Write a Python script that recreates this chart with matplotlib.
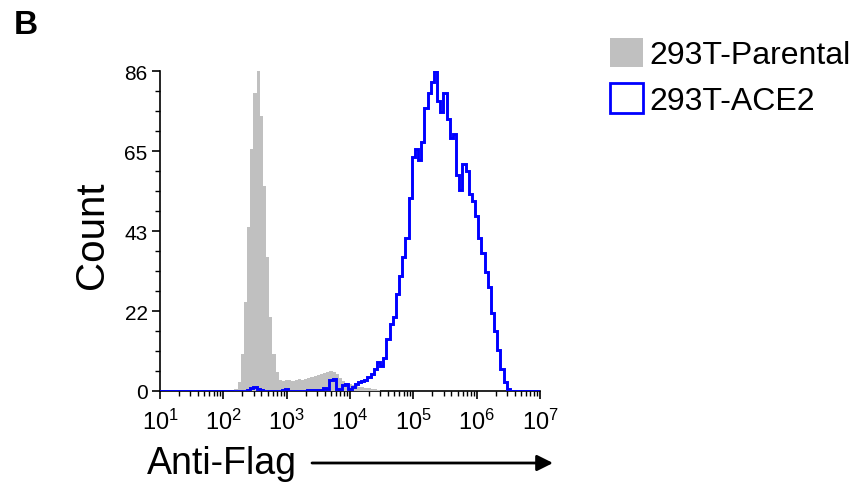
import numpy as np
import matplotlib
matplotlib.use("Agg")
import matplotlib.pyplot as plt
from matplotlib.patches import Patch
from matplotlib.ticker import FixedLocator, MultipleLocator, LogLocator, LogFormatterMathtext

plt.rcParams["font.family"] = ["Liberation Sans", "DejaVu Sans"]
plt.rcParams["mathtext.fontset"] = "custom"
plt.rcParams["mathtext.rm"] = "Liberation Sans"
plt.rcParams["mathtext.it"] = "Liberation Sans"

# Histogram channels: 0.05-decade log10 bins, each list value sits at a bin centre
bin_step = 0.05
log_min, log_max = 1.0, 7.0

# 293T-Parental counts, first bin centred at log10 = 2.15
parental_start = 2.15
parental_counts = [
    0, 0.5, 2.5, 10, 24, 44, 65, 80, 86, 74, 55, 36, 20, 10, 5, 3,
    2.8, 3.0, 3.0, 2.8, 3.0, 3.2, 3.0, 3.3, 3.5, 3.8, 4.0, 4.2, 4.5, 4.8,
    5.0, 5.3, 5.0, 4.5, 3.5, 2.8, 2.2, 1.8, 1.5, 1.3, 1.1, 1.0, 0.8, 0.8,
    0.6, 0.5, 0.3, 0,
]

# 293T-ACE2 counts, first bin centred at log10 = 2.35
ace2_start = 2.35
ace2_counts = [
    0, 0.3, 0.8, 1.0, 0.6, 0.2,          # 2.35 - 2.60
    0, 0, 0, 0, 0, 0,                     # 2.65 - 2.90
    0.3, 0.5,                             # 2.95 - 3.00
    0, 0, 0, 0, 0, 0,                     # 3.05 - 3.30
    0.2, 0.3, 0.3, 0.4, 0.3, 0.8, 0.5,    # 3.35 - 3.65
    3.0, 3.2, 0.5, 0.3, 1.5, 2.0, 0.5,    # 3.70 - 4.00
    1.0, 1.8, 2.4, 2.6, 3.0, 3.7, 4.5,    # 4.05 - 4.35
    6.0, 7.8, 6.8, 9.0, 14, 18, 20,       # 4.40 - 4.70
    26, 31, 36, 41, 52, 63, 65,           # 4.75 - 5.05
    62, 67, 76, 80, 83, 86, 78,           # 5.10 - 5.40
    75, 80, 73, 68, 69, 58, 54,           # 5.45 - 5.75
    61, 59, 53, 51, 47, 41, 37,           # 5.80 - 6.10
    32, 28, 21, 16, 11, 6, 2.5, 0.5, 0,   # 6.15 - 6.55
]

y_max = 86
y_tick_labels = ["0", "22", "43", "65", "86"]
legend_labels = ["293T-Parental", "293T-ACE2"]

parental_color = "#c0c0c0"
ace2_color = "#0000ff"

# bin edges half a bin either side of the centres, covering the full axis
grid_lo = log_min - bin_step / 2
n_bins = int(round((log_max - log_min) / bin_step)) + 1
edges = 10 ** (grid_lo + bin_step * np.arange(n_bins + 1))


def full_hist(start, counts):
    h = np.zeros(n_bins)
    i0 = int(round((start - log_min) / bin_step))
    h[i0:i0 + len(counts)] = counts
    return h


parental = full_hist(parental_start, parental_counts)
ace2 = full_hist(ace2_start, ace2_counts)

fig = plt.figure(figsize=(8.56, 4.85), dpi=100)
ax = fig.add_axes([160 / 856, 1 - 392 / 485, 380 / 856, 320 / 485])

ax.stairs(parental, edges, fill=True, color=parental_color, linewidth=0, zorder=2)
ax.stairs(ace2, edges, fill=False, color=ace2_color, linewidth=2.1, zorder=3)

ax.set_xscale("log")
ax.set_xlim(10 ** log_min, 10 ** log_max)
ax.set_ylim(0, y_max)

ax.xaxis.set_major_locator(LogLocator(base=10, numticks=10))
ax.xaxis.set_minor_locator(LogLocator(base=10, subs=np.arange(2, 10), numticks=20))
ax.xaxis.set_major_formatter(LogFormatterMathtext())

ax.yaxis.set_major_locator(FixedLocator(np.linspace(0, y_max, 5)))
ax.set_yticklabels(y_tick_labels)
ax.yaxis.set_minor_locator(MultipleLocator(y_max / 16))

for side in ("top", "right"):
    ax.spines[side].set_visible(False)
for side in ("left", "bottom"):
    ax.spines[side].set_linewidth(1.2)
    ax.spines[side].set_zorder(1)

ax.tick_params(axis="both", which="major", direction="out", length=6, width=1.2)
ax.tick_params(axis="both", which="minor", direction="out", length=3.5, width=1.0)
ax.tick_params(axis="y", which="major", labelsize=15, pad=3)
ax.tick_params(axis="x", which="major", labelsize=17, pad=7)

fig.text(92 / 856, 1 - 235 / 485, "Count", rotation=90, fontsize=29,
         ha="center", va="center")
fig.text(147 / 856, 1 - 464 / 485, "Anti-Flag", fontsize=27,
         ha="left", va="center")
fig.text(14 / 856, 1 - 25 / 485, "B", fontsize=24, fontweight="bold",
         ha="left", va="center")

ax.annotate("", xy=(553 / 856, 1 - 464 / 485), xytext=(312 / 856, 1 - 464 / 485),
            xycoords="figure fraction", textcoords="figure fraction",
            arrowprops=dict(arrowstyle="-|>", lw=2, color="black",
                            mutation_scale=24, shrinkA=0, shrinkB=0))

handles = [
    Patch(facecolor=parental_color, edgecolor=parental_color, linewidth=0),
    Patch(facecolor="white", edgecolor=ace2_color, linewidth=2),
]
fig.legend(handles, legend_labels, loc="upper left",
           bbox_to_anchor=(597 / 856, 1 - 26 / 485), frameon=False,
           fontsize=23, handlelength=1.05, handleheight=1.05,
           handletextpad=0.2, labelspacing=0.4, borderaxespad=0)

fig.savefig("out.png", dpi=100)
